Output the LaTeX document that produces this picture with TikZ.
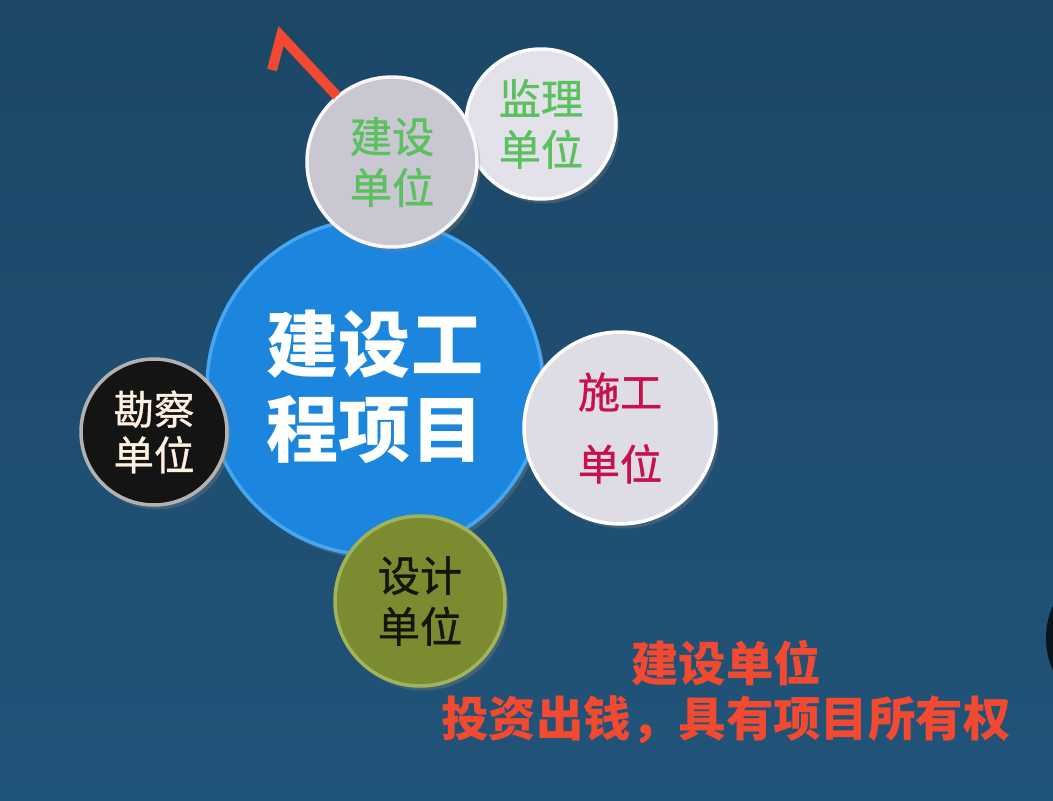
\documentclass[tikz,border=0pt]{standalone}
\usepackage{fontspec}
\setmainfont{Noto Sans CJK SC}
\newfontfamily\medfont[FakeBold=0.9]{Noto Sans CJK SC}
\usetikzlibrary{shadows}
\definecolor{bgtop}{HTML}{1C4767}
\definecolor{bgbottom}{HTML}{215479}
\definecolor{hubblue}{HTML}{1C86DE}
\definecolor{hubrim}{HTML}{45A6F2}
\definecolor{ownergray}{HTML}{C9C7D1}
\definecolor{lightdisc}{HTML}{E3E2EA}
\definecolor{olive}{HTML}{7A8B30}
\definecolor{oliverim}{HTML}{A2B35A}
\definecolor{labelgreen}{HTML}{5CC05E}
\definecolor{crimson}{HTML}{C8104C}
\definecolor{notered}{HTML}{F24A30}

\begin{document}
\begin{tikzpicture}[x=0.02cm, y=-0.02cm,
  disc/.style={circle, draw, line width=2pt, inner sep=0pt, align=center,
    font=\medfont\fontsize{24}{29}\selectfont,
    drop shadow={opacity=0.35, shadow xshift=0.7mm, shadow yshift=-0.9mm}}]
% background
\shade[top color=bgtop, bottom color=bgbottom] (0,0) rectangle (1053,800);
\clip (0,0) rectangle (1053,800);
\fill[black!70!bgtop] (1078,638) ellipse [x radius=32, y radius=52];

% hub and the five parties
\node[disc, fill=hubblue, draw=hubrim, text=white, minimum size=6.72cm,
  font=\bfseries\fontsize{41}{48}\selectfont] (project) at (375,387) {建设工\\程项目};
\node[disc, fill=lightdisc, draw=white!90!lightdisc, text=labelgreen, minimum size=3.0cm] (supervisor) at (541,124) {监理\\单位};
\node[disc, fill=ownergray, draw=white!85!ownergray, text=labelgreen, minimum size=3.4cm] (owner) at (392,162) {建设\\单位};
\node[disc, fill=lightdisc!95!gray, draw=white, text=crimson, minimum size=3.84cm,
  font=\medfont\fontsize{24}{41}\selectfont] (builder) at (620,428) {施工\\单位};
\node[disc, fill=black!92, draw=gray!60, text=white!88!orange, minimum size=2.92cm,
  font=\medfont\fontsize{23}{26}\selectfont] (survey) at (154,432) {勘察\\单位};
\node[disc, fill=olive, draw=oliverim, text=black!85!olive, minimum size=3.4cm] (designer) at (420,601) {设计\\单位};

% red tick
\draw[notered, line width=0.2cm, line join=miter] (272,70) -- (281,36) -- (337,96);

% note
\node[text=notered, align=center, font=\bfseries\fontsize{27}{31}\selectfont] (note) at (726,692)
  {建设单位\\投资出钱，具有项目所有权};
\end{tikzpicture}
\end{document}
